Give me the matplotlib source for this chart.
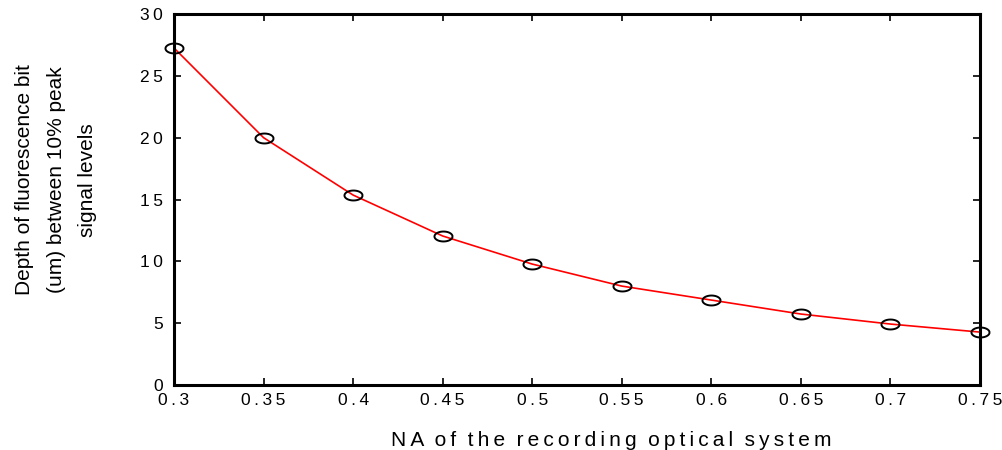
import numpy as np
import matplotlib.pyplot as plt
from matplotlib.path import Path

plt.rcParams['font.family'] = ['Liberation Sans', 'DejaVu Sans']

# data
na = [0.30, 0.35, 0.40, 0.45, 0.50, 0.55, 0.60, 0.65, 0.70, 0.75]
depth = [27.25, 20.0, 15.36, 12.05, 9.78, 8.0, 6.87, 5.74, 4.93, 4.28]

x_ticks = [0.3, 0.35, 0.4, 0.45, 0.5, 0.55, 0.6, 0.65, 0.7, 0.75]
x_labels = ['0.3', '0.35', '0.4', '0.45', '0.5', '0.55', '0.6', '0.65', '0.7', '0.75']
y_ticks = [0, 5, 10, 15, 20, 25, 30]
y_labels = ['0', '5', '10', '15', '20', '25', '30']


def spaced(s):
    # the original renders text with wide letter spacing
    return '\u2009'.join(s)


# flat open ellipse marker
t = np.linspace(0, 2 * np.pi, 60)
ellipse = Path(np.column_stack([np.cos(t), 0.55 * np.sin(t)]))

fig = plt.figure(figsize=(10.03, 4.5), dpi=100)
ax = fig.add_axes([0.1735, 0.1444, 0.8035, 0.8245])

ax.plot(na, depth, color='red', lw=1.2, zorder=2)
ax.plot(na, depth, ls='none', marker=ellipse, markersize=13,
        markerfacecolor='none', markeredgecolor='black', markeredgewidth=1.4,
        clip_on=False, zorder=3)

ax.set_xlim(0.3, 0.75)
ax.set_ylim(0, 30)
ax.set_xticks(x_ticks)
ax.set_xticklabels([spaced(s) for s in x_labels])
ax.set_yticks(y_ticks)
ax.set_yticklabels([spaced(s) for s in y_labels])

ax.tick_params(direction='in', length=5, width=1.2, top=True, right=True,
               labelsize=12.5)
ax.tick_params(axis='y', pad=8)
ax.tick_params(axis='x', pad=6)
for sp in ax.spines.values():
    sp.set_linewidth(2.2)

words = 'NA of the recording optical system'.split()
ax.set_xlabel('  '.join(spaced(w) for w in words), fontsize=15)
ax.xaxis.set_label_coords(0.542, -0.125)
fig.text(0.056, 0.6, 'Depth of fluorescence bit\n(um) between 10% peak\nsignal levels',
         rotation=90, ha='center', va='center', fontsize=15, linespacing=1.85,
         multialignment='center')

fig.savefig('out.png', dpi=100)
